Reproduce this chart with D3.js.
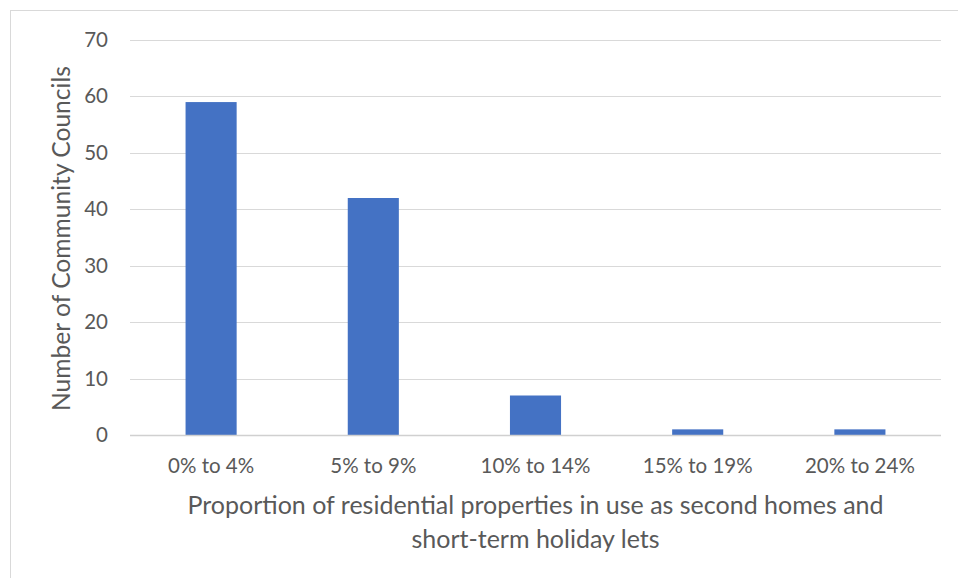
<!DOCTYPE html>
<html><head><meta charset="utf-8">
<script src="https://cdn.jsdelivr.net/npm/d3@7"></script>
<style>body{margin:0;background:#fff}svg{display:block}text{font-family:Lato,"Open Sans",sans-serif;fill:#595959}</style>
</head><body><svg id="c" width="958" height="578"></svg>
<script>
const categories = ["0% to 4%","5% to 9%","10% to 14%","15% to 19%","20% to 24%"];
const values = [59, 42, 7, 1, 1];
const yTicks = [0,10,20,30,40,50,60,70];
const yTitle = "Number of Community Councils";
const xTitleLines = ["Proportion of residential properties in use as second homes and","short-term holiday lets"];

const svg = d3.select("#c");
svg.append("rect").attr("x",10.5).attr("y",10.5).attr("width",960).attr("height",600)
  .attr("fill","#fff").attr("stroke","#d9d9d9").attr("stroke-width",1);

const L=130,R=941,T=40,B=435;
const x = d3.scaleBand().domain(categories).range([L,R]).paddingInner(0.685).paddingOuter(0.3425);
const y = d3.scaleLinear().domain([0,70]).range([B,T]);

const g = svg.append("g");
g.selectAll("line.grid").data(yTicks.filter(d=>d>0)).join("line")
  .attr("x1",L).attr("x2",R).attr("y1",d=>Math.round(y(d))+0.5).attr("y2",d=>Math.round(y(d))+0.5)
  .attr("stroke","#d9d9d9").attr("stroke-width",1);

g.selectAll("rect.bar").data(values).join("rect")
  .attr("x",(d,i)=>x(categories[i])).attr("width",x.bandwidth())
  .attr("y",d=>y(d)).attr("height",d=>y(0)-y(d)).attr("fill","#4472C4");

g.append("line").attr("x1",L).attr("x2",R).attr("y1",y(0)+0.5).attr("y2",y(0)+0.5)
  .attr("stroke","#d0d0d0").attr("stroke-width",1.5);

const yAxis = d3.axisLeft(y).tickValues(yTicks).tickSize(0).tickPadding(0);
const ya = svg.append("g").attr("transform",`translate(${L-22},0)`).call(yAxis);
ya.select(".domain").remove();
ya.selectAll("text").attr("font-size",20.5).style("fill","#595959").style("font-family","Lato,'Open Sans',sans-serif");

const xAxis = d3.axisBottom(x).tickSize(0).tickPadding(0);
const xa = svg.append("g").attr("transform",`translate(0,0)`).call(xAxis);
xa.select(".domain").remove();
xa.selectAll("text").attr("font-size",20.5).attr("y",466).attr("dy","0.35em").style("fill","#595959").style("font-family","Lato,'Open Sans',sans-serif");

svg.append("text").attr("transform",`translate(70,${(T+B)/2 + 1}) rotate(-90)`)
  .attr("text-anchor","middle").attr("font-size",24.6).text(yTitle);

svg.selectAll("text.xt").data(xTitleLines).join("text").attr("class","xt")
  .attr("x",(L+R)/2).attr("y",(d,i)=>514+i*34).attr("text-anchor","middle").attr("font-size",25).text(d=>d);
</script></body></html>
